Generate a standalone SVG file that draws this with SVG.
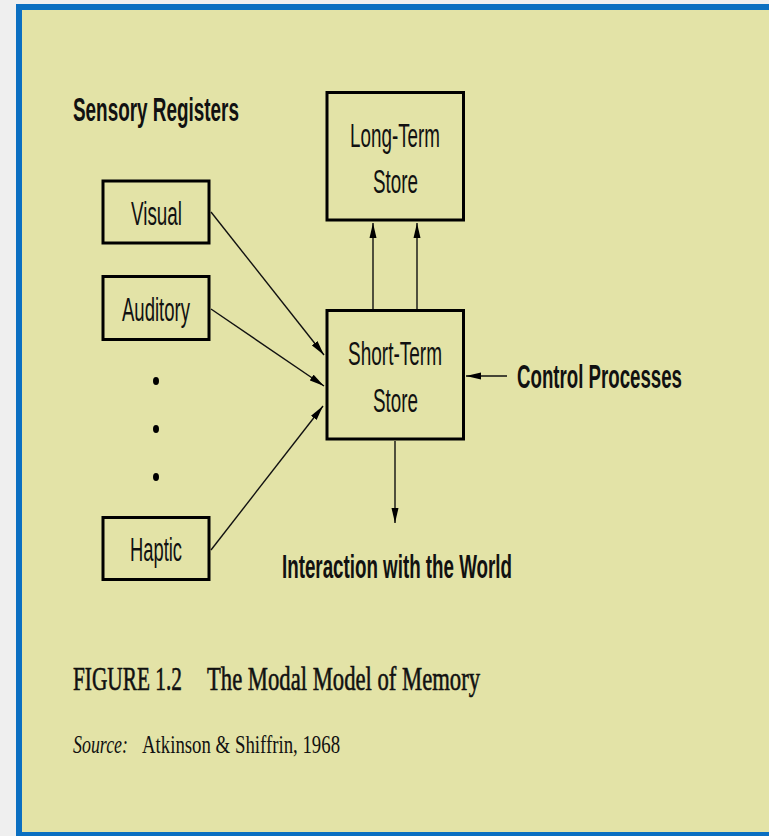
<svg xmlns="http://www.w3.org/2000/svg" width="769" height="836" viewBox="0 0 769 836">
  <defs>
    <style>
      .box { fill: none; stroke: #000; stroke-width: 3; }
      .lbl { font-family: "Liberation Sans", Arial, sans-serif; font-size: 34px; fill: #111; }
      .bold { font-family: "Liberation Sans", Arial, sans-serif; font-size: 34px; font-weight: bold; fill: #111; }
      .serif { font-family: "Liberation Serif", "Times New Roman", serif; fill: #111; }
      .cap { font-size: 34px; stroke: #111; stroke-width: 0.6; }
      .src { font-size: 26px; }
      .conn { stroke: #111; stroke-width: 1.4; fill: none; marker-end: url(#ah); }
    </style>
    <marker id="ah" markerUnits="userSpaceOnUse" markerWidth="16" markerHeight="8" refX="15" refY="4" orient="auto">
      <path d="M0,0.5 L15,4 L0,7.5 z" fill="#000"/>
    </marker>
  </defs>

  <!-- frame -->
  <rect x="0" y="0" width="769" height="836" fill="#efefef"/>
  <rect x="16" y="4" width="760" height="836" fill="#0b6fc1"/>
  <rect x="22" y="10" width="760" height="822" fill="#e3e3a7"/>

  <text class="bold" transform="translate(73,121) scale(0.55,1)" textLength="301.8" lengthAdjust="spacingAndGlyphs">Sensory Registers</text>

  <g id="visual">
    <rect class="box" x="103" y="181" width="106" height="62"/>
    <text class="lbl" transform="translate(131,225) scale(0.55,1)" textLength="92.7" lengthAdjust="spacingAndGlyphs">Visual</text>
  </g>
  <g id="auditory">
    <rect class="box" x="103" y="276.5" width="106" height="63"/>
    <text class="lbl" transform="translate(122,321) scale(0.55,1)" textLength="123.6" lengthAdjust="spacingAndGlyphs">Auditory</text>
  </g>
  <g id="dots">
    <ellipse cx="156" cy="381" rx="3" ry="4" fill="#000"/>
    <ellipse cx="156" cy="429" rx="3" ry="4" fill="#000"/>
    <ellipse cx="156" cy="477" rx="3" ry="4" fill="#000"/>
  </g>
  <g id="haptic">
    <rect class="box" x="103" y="517.5" width="106" height="62"/>
    <text class="lbl" transform="translate(130,561) scale(0.55,1)" textLength="94.5" lengthAdjust="spacingAndGlyphs">Haptic</text>
  </g>
  <g id="long-term">
    <rect class="box" x="327" y="92.5" width="136.5" height="127.5"/>
    <text class="lbl" transform="translate(350,147) scale(0.55,1)" textLength="163.6" lengthAdjust="spacingAndGlyphs">Long-Term</text>
    <text class="lbl" transform="translate(373,193) scale(0.55,1)" textLength="81.8" lengthAdjust="spacingAndGlyphs">Store</text>
  </g>
  <g id="short-term">
    <rect class="box" x="327" y="310.5" width="136.5" height="128.5"/>
    <text class="lbl" transform="translate(348,365) scale(0.55,1)" textLength="170.9" lengthAdjust="spacingAndGlyphs">Short-Term</text>
    <text class="lbl" transform="translate(373,412) scale(0.55,1)" textLength="81.8" lengthAdjust="spacingAndGlyphs">Store</text>
  </g>
  <g id="control">
    <text class="bold" transform="translate(517,388) scale(0.55,1)" textLength="300" lengthAdjust="spacingAndGlyphs">Control Processes</text>
  </g>
  <g id="world">
    <text class="bold" transform="translate(282,578) scale(0.55,1)" textLength="418.2" lengthAdjust="spacingAndGlyphs">Interaction with the World</text>
  </g>

  <g id="connectors">
    <line class="conn" x1="211" y1="212" x2="324" y2="355"/>
    <line class="conn" x1="211" y1="309" x2="324" y2="386"/>
    <line class="conn" x1="211" y1="550" x2="323" y2="406"/>
    <line class="conn" x1="373" y1="309" x2="373" y2="223"/>
    <line class="conn" x1="417" y1="309" x2="417" y2="223"/>
    <line class="conn" x1="395" y1="441" x2="395" y2="523"/>
    <line class="conn" x1="507" y1="376" x2="466" y2="376"/>
  </g>

  <text class="serif cap" transform="translate(73,690) scale(0.65,1)" textLength="167.7" lengthAdjust="spacingAndGlyphs">FIGURE 1.2</text>
  <text class="serif cap" transform="translate(207,690) scale(0.65,1)" textLength="420" lengthAdjust="spacingAndGlyphs">The Modal Model of Memory</text>
  <text class="serif src" font-style="italic" transform="translate(73,753) scale(0.7,1)" textLength="78.6" lengthAdjust="spacingAndGlyphs">Source:</text>
  <text class="serif src" transform="translate(142,753) scale(0.7,1)" textLength="282.9" lengthAdjust="spacingAndGlyphs">Atkinson &amp; Shiffrin, 1968</text>
</svg>
